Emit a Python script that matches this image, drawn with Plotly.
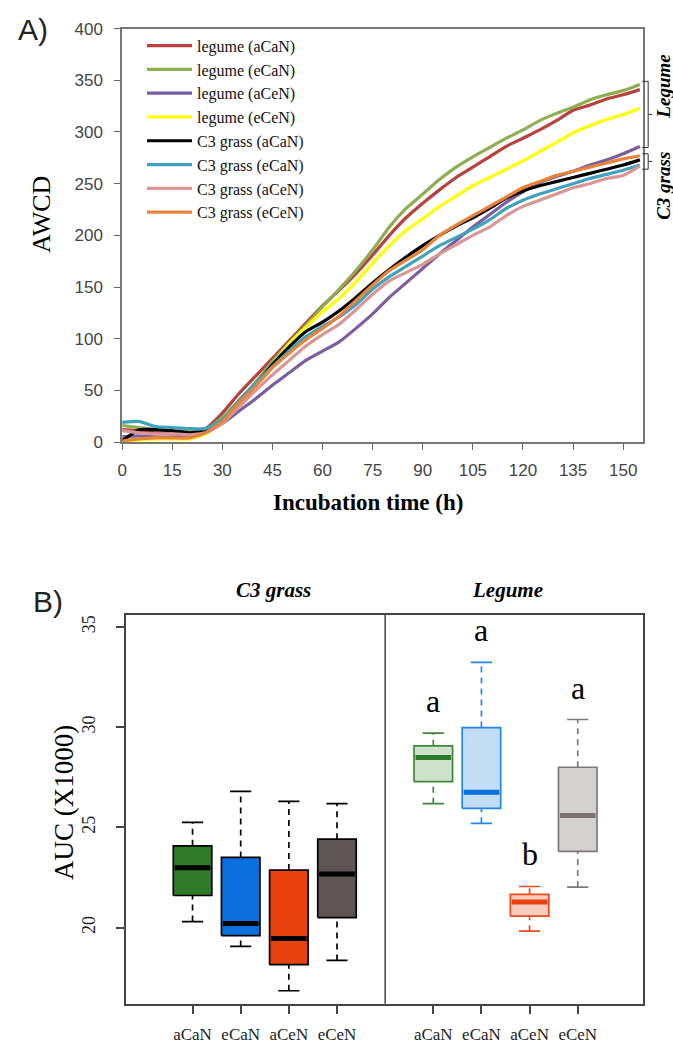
import plotly.graph_objects as go

# ---------------- Panel A data ----------------
time_h = [0, 5, 10, 15, 20, 25, 30, 35, 40, 45, 50, 55, 60, 65, 70, 75, 80, 85,
          90, 95, 100, 105, 110, 115, 120, 125, 130, 135, 140, 145, 150, 155]

legume_aCaN = [12, 11, 10, 10, 9, 13, 28, 47, 64, 81, 98, 115, 132, 147, 163, 181, 200, 217,
               231, 244, 256, 266, 276, 286, 294, 302, 311, 321, 326, 332, 336, 341]
legume_eCaN = [16, 14, 12, 11, 10, 12, 24, 40, 58, 78, 96, 113, 131, 148, 166, 186, 208, 226,
               240, 254, 266, 276, 285, 294, 302, 311, 318, 324, 331, 336, 340, 346]
legume_aCeN = [5, 6, 5, 5, 6, 10, 18, 30, 42, 55, 67, 79, 88, 97, 110, 124, 140, 154,
               168, 182, 195, 208, 220, 232, 242, 251, 257, 262, 268, 273, 279, 286]
legume_eCeN = [2, 2, 3, 3, 3, 8, 22, 40, 56, 75, 95, 111, 126, 139, 155, 173, 190, 205,
               216, 228, 238, 248, 256, 264, 272, 281, 290, 299, 306, 312, 317, 323]
c3_aCaN = [1, 12, 12, 11, 9, 11, 21, 40, 56, 75, 92, 107, 116, 127, 140, 154, 167, 179,
           190, 200, 209, 217, 226, 236, 243, 248, 252, 256, 260, 264, 268, 273]
c3_eCaN = [19, 20, 15, 14, 13, 13, 22, 40, 57, 73, 88, 102, 112, 121, 133, 148, 160, 170,
           180, 190, 198, 206, 215, 226, 234, 240, 245, 250, 255, 259, 263, 268]
c3_aCeN = [11, 9, 8, 8, 7, 9, 18, 34, 50, 65, 79, 93, 104, 114, 128, 143, 156, 164,
           172, 182, 191, 200, 208, 219, 228, 234, 240, 246, 250, 255, 258, 267]
c3_eCeN = [1, 3, 4, 4, 4, 9, 20, 38, 54, 72, 86, 99, 110, 122, 137, 152, 166, 176,
           186, 200, 210, 219, 228, 237, 246, 252, 258, 262, 266, 270, 274, 277]

series_names = ["legume (aCaN)", "legume (eCaN)", "legume (aCeN)", "legume (eCeN)",
                "C3 grass (aCaN)", "C3 grass (eCaN)", "C3 grass (aCeN)", "C3 grass (eCeN)"]
series_values = [legume_aCaN, legume_eCaN, legume_aCeN, legume_eCeN,
                 c3_aCaN, c3_eCaN, c3_aCeN, c3_eCeN]
series_colors = ["#B9413E", "#8DAF52", "#7A5EA0", "#FFFF00",
                 "#000000", "#3FA3BF", "#D99694", "#E8843A"]

x_ticks_a = [0, 15, 30, 45, 60, 75, 90, 105, 120, 135, 150]
y_ticks_a = [0, 50, 100, 150, 200, 250, 300, 350, 400]

# ---------------- Panel B data ----------------
treatments = ["aCaN", "eCaN", "aCeN", "eCeN"]
# C3 grass: lower whisker, Q1, median, Q3, upper whisker
c3_low = [20.3, 19.06, 16.85, 18.36]
c3_q1 = [21.6, 19.6, 18.15, 20.5]
c3_med = [22.98, 20.2, 19.46, 22.67]
c3_q3 = [24.08, 23.5, 22.87, 24.41]
c3_high = [25.25, 26.8, 26.3, 26.18]
# Legume
leg_low = [26.18, 25.2, 19.82, 22.02]
leg_q1 = [27.28, 25.95, 20.57, 23.8]
leg_med = [28.48, 26.75, 21.28, 25.59]
leg_q3 = [29.07, 29.98, 21.66, 28.0]
leg_high = [29.7, 33.23, 22.05, 30.38]
leg_letters = ["a", "a", "b", "a"]

c3_fill = ["#2F7A28", "#0A70DE", "#E8400E", "#5E5454"]
c3_line = ["#000000", "#000000", "#000000", "#000000"]
c3_median = ["#000000", "#000000", "#000000", "#000000"]
leg_fill = ["#CFE2CC", "#C3DDF6", "#F8CDBF", "#D4D2D1"]
leg_line = ["#3C8A36", "#2585E8", "#F04A1E", "#7E7877"]
leg_median = ["#2C7A27", "#0A6FD8", "#E8400E", "#7A7272"]

y_ticks_b = [20, 25, 30, 35]

W, H = 673, 1055
fig = go.Figure()

# ---- Panel A lines ----
for name, vals, col in zip(series_names, series_values, series_colors):
    fig.add_trace(go.Scatter(x=time_h, y=vals, mode="lines", name=name,
                             line=dict(color=col, width=3.2, shape="spline", smoothing=0.5),
                             xaxis="x", yaxis="y"))

# ---- Panel B boxes ----
positions_c3 = [0, 1, 2, 3]
positions_leg = [5, 6, 7, 8]
half_w = 0.4
cap_w = 0.22


def draw_box(p, lo, q1, md, q3, hi, fill, edge, medc, lw):
    fig.add_trace(go.Scatter(x=[p - half_w, p + half_w, p + half_w, p - half_w, p - half_w],
                             y=[q1, q1, q3, q3, q1], mode="lines", fill="toself",
                             fillcolor=fill, line=dict(color=edge, width=lw),
                             xaxis="x2", yaxis="y2", showlegend=False, hoverinfo="skip"))
    fig.add_trace(go.Scatter(x=[p - half_w + 0.03, p + half_w - 0.03], y=[md, md], mode="lines",
                             line=dict(color=medc, width=5),
                             xaxis="x2", yaxis="y2", showlegend=False, hoverinfo="skip"))
    for a, b in ((q3, hi), (lo, q1)):
        fig.add_trace(go.Scatter(x=[p, p], y=[a, b], mode="lines",
                                 line=dict(color=edge, width=lw, dash="6px,5px"),
                                 xaxis="x2", yaxis="y2", showlegend=False, hoverinfo="skip"))
    for v in (hi, lo):
        fig.add_trace(go.Scatter(x=[p - cap_w, p + cap_w], y=[v, v], mode="lines",
                                 line=dict(color=edge, width=lw),
                                 xaxis="x2", yaxis="y2", showlegend=False, hoverinfo="skip"))


for i in range(4):
    draw_box(positions_c3[i], c3_low[i], c3_q1[i], c3_med[i], c3_q3[i], c3_high[i],
             c3_fill[i], c3_line[i], c3_median[i], 1.7)
    draw_box(positions_leg[i], leg_low[i], leg_q1[i], leg_med[i], leg_q3[i], leg_high[i],
             leg_fill[i], leg_line[i], leg_median[i], 1.7)

serif = "Liberation Serif, Times New Roman, serif"
sans = "Liberation Sans, Arial, sans-serif"


def paper_text(xp, yp, text, size, family, angle=0, color="#000"):
    return dict(x=xp / W, y=1 - yp / H, xref="paper", yref="paper", text=text, showarrow=False,
                xanchor="center", yanchor="middle", textangle=angle,
                font=dict(family=family, size=size, color=color))


annotations = []
# letters over legume boxes
for p, hi, letter in zip(positions_leg, leg_high, leg_letters):
    annotations.append(dict(x=p, y=hi, xref="x2", yref="y2", text=letter, showarrow=False,
                            xanchor="center", yanchor="bottom", yshift=12,
                            font=dict(family=serif, size=32, color="#000")))

# facet titles
annotations.append(paper_text(271, 592, "<b><i>C3 grass</i></b>", 21, serif))
annotations.append(paper_text(506, 592, "<b><i>Legume</i></b>", 21, serif))
# panel labels
annotations.append(paper_text(28, 21, "A)", 30, sans, color="#222"))
annotations.append(paper_text(43, 603, "B)", 30, sans, color="#222"))
# axis titles
annotations.append(paper_text(37, 209, "AWCD", 26, serif, angle=-90))
annotations.append(paper_text(366, 503, "<b>Incubation time (h)</b>", 23, serif))
annotations.append(paper_text(60, 808, "AUC (X1000)", 27, serif, angle=-90))
# right-side group labels
annotations.append(paper_text(664, 79, "<b><i>Legume</i></b>", 19, serif, angle=-90))
annotations.append(paper_text(664, 180, "<b><i>C3 grass</i></b>", 19, serif, angle=-90))

# brackets derived from the curve end values
leg_ends = [s[-1] for s in series_values[:4]]
c3_ends = [s[-1] for s in series_values[4:]]
shapes = []
xb0, xb1, xm = 642 / W, 648 / W, 652 / W
for lo, hi in ((min(leg_ends) - 1, max(leg_ends) + 3), (min(c3_ends) - 3, max(c3_ends) + 2)):
    shapes.append(dict(type="path", xref="paper", yref="y",
                       path=f"M {xb0},{hi} L {xb1},{hi} L {xb1},{lo} L {xb0},{lo}",
                       line=dict(color="#333", width=1)))
    mid = (lo + hi) / 2
    shapes.append(dict(type="line", xref="paper", yref="y", x0=xb1, x1=xm, y0=mid, y1=mid,
                       line=dict(color="#333", width=1)))
# divider between panels in B
shapes.append(dict(type="line", xref="x2", yref="paper", x0=4, x1=4, y0=1 - 1013 / H, y1=1 - 617 / H,
                   line=dict(color="#444", width=1.5)))

fig.update_layout(
    width=W, height=H, margin=dict(l=0, r=0, t=0, b=0),
    paper_bgcolor="white", plot_bgcolor="white",
    showlegend=True,
    legend=dict(x=138 / W, y=1 - 20 / H, xanchor="left", yanchor="top",
                bgcolor="rgba(0,0,0,0)", font=dict(family=serif, size=16, color="#111"),
                tracegroupgap=0, itemwidth=45),
    xaxis=dict(domain=[118 / W, 643 / W], anchor="y", range=[0, 156], tickvals=x_ticks_a,
               ticks="outside", ticklen=6, tickcolor="#666", showline=True, mirror=True,
               linecolor="#777", linewidth=1.5, showgrid=False, zeroline=False,
               ticklabelstandoff=6,
               tickfont=dict(family=sans, size=17, color="#444")),
    yaxis=dict(domain=[1 - 441 / H, 1 - 20 / H], anchor="x", range=[0, 400], tickvals=y_ticks_a,
               ticks="outside", ticklen=6, tickcolor="#666", showline=True, mirror=True,
               linecolor="#777", linewidth=1.5, showgrid=False, zeroline=False,
               ticklabelstandoff=8,
               tickfont=dict(family=sans, size=17, color="#444")),
    xaxis2=dict(domain=[122 / W, 643 / W], anchor="y2", range=[-1.38, 9.36],
                tickvals=positions_c3 + positions_leg, ticktext=treatments + treatments,
                ticks="outside", ticklen=8, tickwidth=1.5, tickcolor="#444", showline=True, mirror=True,
                linecolor="#444", linewidth=1.5, showgrid=False, zeroline=False,
                ticklabelstandoff=6,
                tickfont=dict(family=serif, size=17, color="#222")),
    yaxis2=dict(domain=[1 - 1013 / H, 1 - 617 / H], anchor="x2", range=[16.2, 35.6],
                tickvals=y_ticks_b, tickangle=-90, ticks="outside", ticklen=8, tickwidth=1.5,
                tickcolor="#444", showline=True, mirror=True, linecolor="#444", linewidth=1.5,
                showgrid=False, zeroline=False, ticklabelstandoff=14,
                tickfont=dict(family=serif, size=18, color="#222")),
    annotations=annotations, shapes=shapes,
)

fig.write_html("out.html")
